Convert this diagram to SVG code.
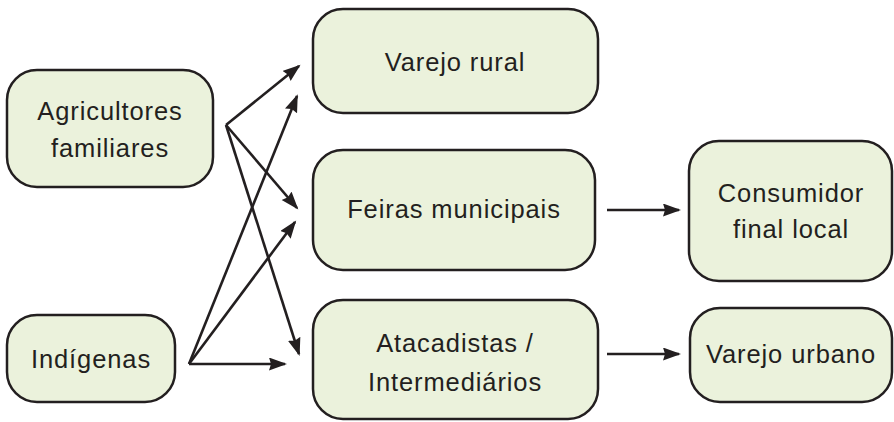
<svg xmlns="http://www.w3.org/2000/svg" width="894" height="422" viewBox="0 0 894 422">
<style>
.box{fill:#ebf2dc;stroke:#231f20;stroke-width:2.5}
.t{font-family:"Liberation Sans",Arial,sans-serif;font-size:25.5px;letter-spacing:0.9px;fill:#231f20;text-anchor:middle}
.c{stroke:#231f20;stroke-width:2.6;fill:none;marker-end:url(#ah)}
</style>
<defs>
<marker id="ah" markerUnits="userSpaceOnUse" markerWidth="20" markerHeight="14" refX="16" refY="6.5" orient="auto">
<path d="M0,0 L18,6.5 L0,13 L2,6.5 z" fill="#231f20"/>
</marker>
</defs>
<rect width="894" height="422" fill="#fff"/>
<g id="agricultores"><rect class="box" x="7" y="70" width="206" height="117" rx="30"/><text class="t" x="110" y="120">Agricultores</text><text class="t" x="110" y="157">familiares</text></g>
<g id="indigenas"><rect class="box" x="7" y="315" width="168" height="87" rx="30"/><text class="t" x="91" y="368">Indígenas</text></g>
<g id="varejo-rural"><rect class="box" x="313" y="9" width="285" height="104" rx="30"/><text class="t" x="455" y="71">Varejo rural</text></g>
<g id="feiras"><rect class="box" x="313" y="150" width="282" height="120" rx="30"/><text class="t" x="454" y="218">Feiras municipais</text></g>
<g id="atacadistas"><rect class="box" x="313" y="300" width="285" height="119" rx="30"/><text class="t" x="455" y="352">Atacadistas /</text><text class="t" x="455" y="391">Intermediários</text></g>
<g id="consumidor"><rect class="box" x="689" y="141" width="203" height="140" rx="30"/><text class="t" x="791" y="202">Consumidor</text><text class="t" x="791" y="238">final local</text></g>
<g id="varejo-urbano"><rect class="box" x="690" y="308" width="202" height="94" rx="30"/><text class="t" x="791" y="363">Varejo urbano</text></g>
<g id="connectors">
<line class="c" x1="226" y1="125" x2="299" y2="66"/>
<line class="c" x1="226" y1="125" x2="297" y2="208"/>
<line class="c" x1="226" y1="125" x2="299" y2="354"/>
<line class="c" x1="189" y1="364" x2="297" y2="96"/>
<line class="c" x1="189" y1="364" x2="295" y2="222"/>
<line class="c" x1="189" y1="364" x2="285" y2="364"/>
<line class="c" x1="607" y1="210" x2="679" y2="210"/>
<line class="c" x1="607" y1="354" x2="679" y2="354"/>
</g>
</svg>
